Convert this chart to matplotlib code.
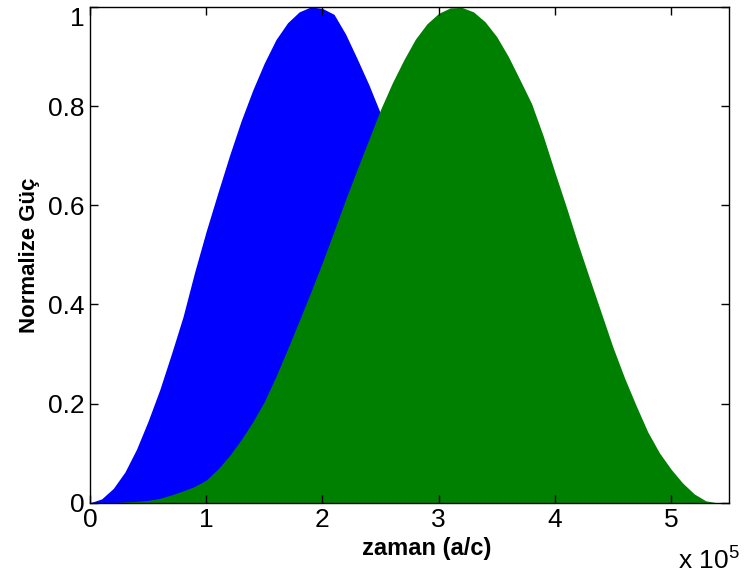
import numpy as np
import matplotlib
matplotlib.use("Agg")
import matplotlib.pyplot as plt

# values (x in units of 1e5)
blue_x = [0, 0.1, 0.2, 0.3, 0.4, 0.5, 0.6, 0.7, 0.8, 0.9, 1.0, 1.1, 1.2, 1.3, 1.4, 1.5,
          1.6, 1.7, 1.8, 1.9, 2.0, 2.1, 2.2, 2.3, 2.4, 2.5, 2.6, 2.7, 2.8, 2.9, 3.0,
          3.2, 3.4, 3.6, 3.8, 3.9]
blue_y = [0, 0.008, 0.029, 0.062, 0.108, 0.165, 0.228, 0.300, 0.375, 0.465, 0.548, 0.625,
          0.700, 0.770, 0.832, 0.887, 0.934, 0.968, 0.990, 1.0, 0.997, 0.985, 0.945, 0.895,
          0.843, 0.785, 0.72, 0.65, 0.575, 0.50, 0.42, 0.27, 0.14, 0.05, 0.008, 0]

green_x = [0, 0.2, 0.4, 0.5, 0.6, 0.7, 0.8, 0.9, 1.0, 1.1, 1.2, 1.3, 1.4, 1.5, 1.6, 1.7,
           1.8, 1.9, 2.0, 2.1, 2.2, 2.3, 2.4, 2.5, 2.6, 2.7, 2.8, 2.9, 3.0, 3.1, 3.2, 3.3,
           3.4, 3.5, 3.6, 3.7, 3.8, 3.9, 4.0, 4.1, 4.2, 4.3, 4.4, 4.5, 4.6, 4.7, 4.8, 4.9,
           5.0, 5.1, 5.2, 5.3, 5.4, 5.5]
green_y = [0, 0.0005, 0.003, 0.005, 0.009, 0.016, 0.024, 0.033, 0.046, 0.068, 0.095, 0.127,
           0.163, 0.204, 0.255, 0.310, 0.367, 0.425, 0.485, 0.548, 0.612, 0.673, 0.733, 0.793,
           0.846, 0.893, 0.935, 0.966, 0.987, 0.998, 0.999, 0.990, 0.970, 0.940, 0.900, 0.853,
           0.805, 0.740, 0.667, 0.596, 0.522, 0.452, 0.383, 0.314, 0.252, 0.196, 0.143, 0.101,
           0.068, 0.040, 0.018, 0.004, 0, 0]

x_ticks = [0, 1, 2, 3, 4, 5]
y_ticks = [0, 0.2, 0.4, 0.6, 0.8, 1]
scale = 1e5

plt.rcParams['font.family'] = ['Liberation Sans', 'DejaVu Sans']
plt.rcParams['mathtext.fontset'] = 'custom'
plt.rcParams['mathtext.rm'] = 'Liberation Sans'

fig = plt.figure(figsize=(7.44, 5.76), dpi=100)
ax = fig.add_axes([0.121, 0.127, 0.859, 0.861])

bx = np.array(blue_x) * scale
gx = np.array(green_x) * scale
ax.fill_between(bx, 0, blue_y, color=(0, 0, 1), linewidth=0)
ax.fill_between(gx, 0, green_y, color=(0, 0.5, 0), linewidth=0)

ax.set_xlim(0, 5.5 * scale)
ax.set_ylim(0, 1)
ax.set_xticks([t * scale for t in x_ticks])
ax.set_xticklabels([str(t) for t in x_ticks])
ax.set_yticks(y_ticks)
ax.set_yticklabels(['%g' % t for t in y_ticks])
ax.tick_params(direction='in', length=6, width=1, labelsize=19, top=True, right=True, pad=4)
# MATLAB keeps the top label inside the figure
ax.get_yticklabels()[-1].set_va('top')

for s in ax.spines.values():
    s.set_linewidth(1)

ax.set_xlabel("zaman (a/c)", fontsize=17, fontweight='bold')
ax.xaxis.set_label_coords(0.526, -0.092, transform=ax.transAxes)
ax.xaxis.label.set_va('center')
ax.set_ylabel("Normalize Güç", fontsize=16, fontweight='bold', labelpad=6)
ax.text(1.017, -0.115, r"x 10$^{5}$", transform=ax.transAxes, ha='right', va='center', fontsize=19)

fig.savefig("out.png", dpi=100)
